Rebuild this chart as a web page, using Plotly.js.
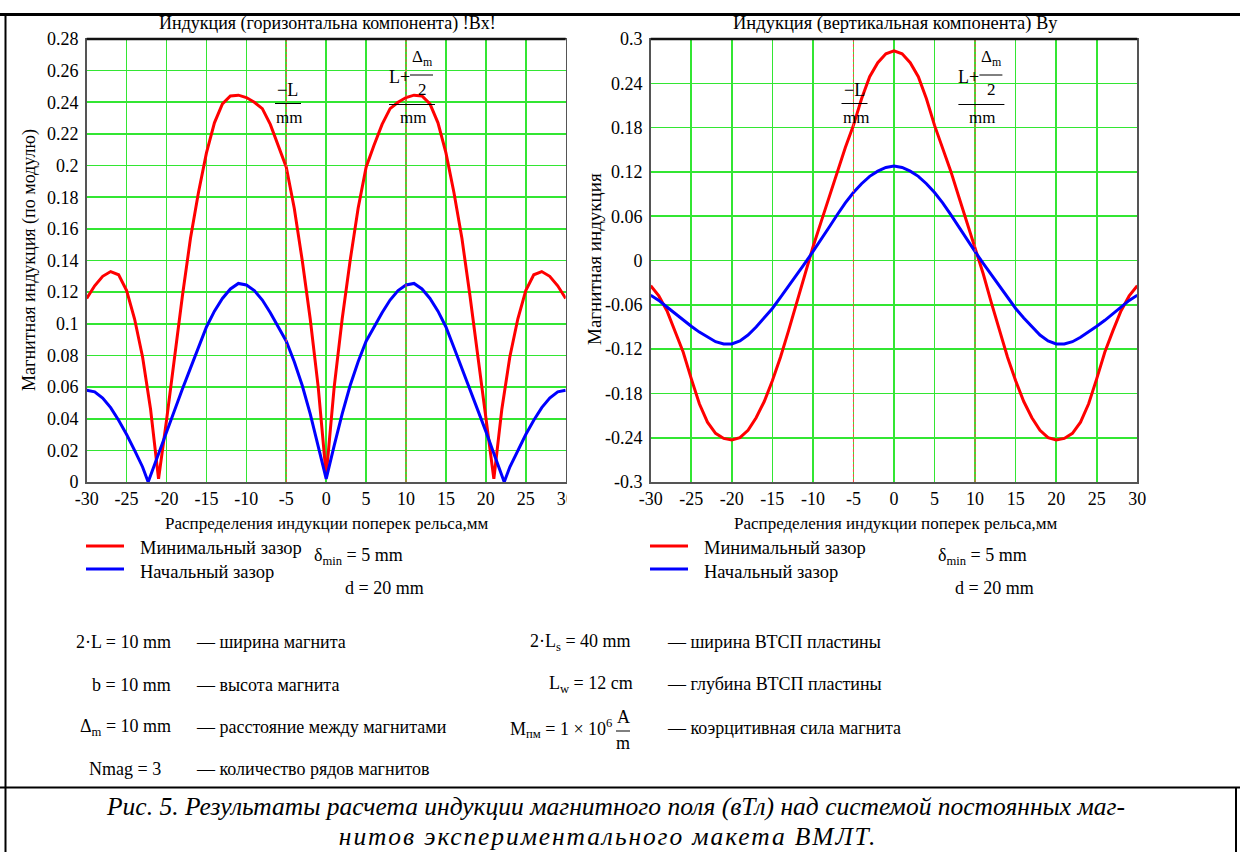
<!DOCTYPE html>
<html>
<head>
<meta charset="utf-8">
<script src="https://cdn.plot.ly/plotly-3.0.1.min.js"></script>
<style>
  html, body { margin: 0; padding: 0; background: #ffffff; }
  #chart { width: 1240px; height: 852px; }
</style>
</head>
<body>
<div id="chart"></div>
<script>
// ---------------- data ----------------
const xMm = [-30,-29,-28,-27,-26,-25,-24,-23,-22,-21,-20,-19,-18,-17,-16,-15,-14,-13,-12,-11,-10,-9,-8,-7,-6,-5,-4,-3,-2,-1,0,
             1,2,3,4,5,6,7,8,9,10,11,12,13,14,15,16,17,18,19,20,21,22,23,24,25,26,27,28,29,30];

// |Bx|, minimal gap (red)
const bxRed = [0.116,0.124,0.130,0.133,0.131,0.121,0.103,0.079,0.046,0.002,0.039,0.079,0.118,0.154,0.183,0.208,0.227,0.239,0.244,0.2445,0.243,0.240,0.236,0.226,0.213,0.199,0.173,0.140,0.103,0.060,0.004,
               0.060,0.103,0.140,0.173,0.199,0.213,0.226,0.236,0.240,0.243,0.2445,0.244,0.239,0.227,0.208,0.183,0.154,0.118,0.079,0.039,0.002,0.046,0.079,0.103,0.121,0.131,0.133,0.130,0.124,0.116];

// |Bx|, initial gap (blue) - own x positions to include the zero cusps
const xBxBlue = [-30,-29,-28,-27,-26,-25,-24,-23,-22.3,-22,-21,-20,-19,-18,-17,-16,-15,-14,-13,-12,-11,-10,-9,-8,-7,-6,-5,-4,-3,-2,-1,0,
                 1,2,3,4,5,6,7,8,9,10,11,12,13,14,15,16,17,18,19,20,21,22,22.3,23,24,25,26,27,28,29,30];
const bxBlue = [0.058,0.057,0.053,0.047,0.039,0.030,0.020,0.0095,0.0,0.0042,0.018,0.032,0.046,0.059,0.072,0.085,0.098,0.108,0.116,0.122,0.1255,0.1245,0.121,0.115,0.107,0.098,0.089,0.076,0.061,0.043,0.023,0.002,
                0.023,0.043,0.061,0.076,0.089,0.098,0.107,0.115,0.121,0.1245,0.1255,0.122,0.116,0.108,0.098,0.085,0.072,0.059,0.046,0.032,0.018,0.0042,0.0,0.0095,0.020,0.030,0.039,0.047,0.053,0.057,0.058];

// By, minimal gap (red)
const byRed = [-0.034,-0.048,-0.068,-0.095,-0.124,-0.160,-0.194,-0.219,-0.234,-0.241,-0.243,-0.240,-0.230,-0.213,-0.191,-0.163,-0.131,-0.095,-0.057,-0.018,0.018,0.052,0.086,0.121,0.153,0.183,0.219,0.249,0.268,0.280,0.284,
               0.280,0.268,0.249,0.219,0.183,0.153,0.121,0.086,0.052,0.018,-0.018,-0.057,-0.095,-0.131,-0.163,-0.191,-0.213,-0.230,-0.240,-0.243,-0.241,-0.234,-0.219,-0.194,-0.160,-0.124,-0.095,-0.068,-0.048,-0.034];

// By, initial gap (blue)
const byBlue = [-0.047,-0.054,-0.063,-0.072,-0.081,-0.089,-0.097,-0.104,-0.110,-0.113,-0.113,-0.109,-0.101,-0.090,-0.078,-0.065,-0.050,-0.035,-0.019,-0.004,0.012,0.028,0.045,0.062,0.078,0.092,0.104,0.114,0.121,0.126,0.128,
                0.126,0.121,0.114,0.104,0.092,0.078,0.062,0.045,0.028,0.012,-0.004,-0.019,-0.035,-0.050,-0.065,-0.078,-0.090,-0.101,-0.109,-0.113,-0.113,-0.110,-0.104,-0.097,-0.089,-0.081,-0.072,-0.063,-0.054,-0.047];

// marker lines: -L and L + Δm/2 (mm)
const markerLines = [-5, 10];

// tick labels
const xTicks = [-30,-25,-20,-15,-10,-5,0,5,10,15,20,25,30];
const xTickText = ['-30','-25','-20','-15','-10','-5','0','5','10','15','20','25','30'];
const bxTicks = [0,0.02,0.04,0.06,0.08,0.1,0.12,0.14,0.16,0.18,0.2,0.22,0.24,0.26,0.28];
const bxTickText = ['0','0.02','0.04','0.06','0.08','0.1','0.12','0.14','0.16','0.18','0.2','0.22','0.24','0.26','0.28'];
const byTicks = [-0.3,-0.24,-0.18,-0.12,-0.06,0,0.06,0.12,0.18,0.24,0.3];
const byTickText = ['-0.3','-0.24','-0.18','-0.12','-0.06','0','0.06','0.12','0.18','0.24','0.3'];

const seriesNames = ['Минимальный зазор', 'Начальный зазор'];

// ---------------- layout helpers ----------------
const W = 1240, H = 852;
const FONT = 'Liberation Serif, Times New Roman, serif';
const RED = '#ff0000', BLUE = '#0000ff', GRID = '#33e633';
const X = v => v / W;
const Y = v => 1 - v / H;

const annotations = [];
function txt(text, x, y, o) {
  o = o || {};
  annotations.push({
    text: text, xref: 'paper', yref: 'paper', x: X(x), y: Y(y),
    xanchor: o.xa || 'center', yanchor: 'middle', showarrow: false,
    textangle: o.angle || 0,
    font: { family: FONT, size: o.size || 18, color: '#000' }
  });
  return annotations.length - 1;
}
const shapes = [];
function seg(x0, y0, x1, y1, w, c, dash) {
  shapes.push({ type: 'line', xref: 'paper', yref: 'paper',
    x0: X(x0), y0: Y(y0), x1: X(x1), y1: Y(y1),
    line: { color: c || '#000', width: w || 1, dash: dash || 'solid' }, layer: 'above' });
}

// plot domains (pixels)
const P1 = { l: 86.7, r: 565.7, t: 39, b: 482 };
const P2 = { l: 650.7, r: 1137.3, t: 39, b: 482 };

// ---------------- traces ----------------
const traces = [
  { x: xMm, y: bxRed, type: 'scatter', mode: 'lines', name: seriesNames[0], line: { color: RED, width: 3 }, xaxis: 'x', yaxis: 'y', showlegend: false },
  { x: xBxBlue, y: bxBlue, type: 'scatter', mode: 'lines', name: seriesNames[1], line: { color: BLUE, width: 3 }, xaxis: 'x', yaxis: 'y', showlegend: false },
  { x: xMm, y: byRed, type: 'scatter', mode: 'lines', name: seriesNames[0], line: { color: RED, width: 3 }, xaxis: 'x2', yaxis: 'y2', showlegend: false },
  { x: xMm, y: byBlue, type: 'scatter', mode: 'lines', name: seriesNames[1], line: { color: BLUE, width: 3 }, xaxis: 'x2', yaxis: 'y2', showlegend: false }
];

// marker lines in data coordinates
markerLines.forEach(v => {
  ['x', 'x2'].forEach((xa, i) => {
    shapes.push({ type: 'line', xref: xa, yref: (i === 0 ? 'y' : 'y2') + ' domain',
      x0: v, x1: v, y0: 0, y1: 1,
      line: { color: 'rgb(255,70,70)', width: 1, dash: '3px,2px' }, layer: 'above' });
  });
});

// top frame lines (dark)
seg(P1.l, P1.t, P1.r, P1.t, 2.5, '#111');
seg(P2.l, P2.t, P2.r, P2.t, 2.5, '#111');

// hide clipped part of last tick label on the left plot
shapes.push({ type: 'rect', xref: 'paper', yref: 'paper', x0: X(566.6), x1: X(584), y0: Y(508), y1: Y(484),
  fillcolor: '#ffffff', line: { width: 0 }, layer: 'above' });

// ---------------- texts ----------------
txt('Индукция (горизонтальна компонента) !Bx!', 327, 24, { size: 18 });
txt('Индукция (вертикальная компонента) By', 895, 24, { size: 18.5 });
txt('Распределения индукции поперек рельса,мм', 326, 523, { size: 17 });
txt('Распределения индукции поперек рельса,мм', 895, 523, { size: 17 });
txt('Магнитная индукция (по модулю)', 30, 260, { size: 18, angle: -90 });
txt('Магнитная индукция', 594, 259, { size: 19, angle: -90 });

// fraction labels for the marker lines
[0, 569.4].forEach(dx => {
  const c = dx === 0 ? 287.5 : 854;
  txt('−L', c, 90, { size: 18 });
  seg(c - 12.5, 103.5, c + 13.5, 103.5, 1, '#000');
  txt('mm', c + 1.5, 117, { size: 17 });
  txt('L+', 399 + dx, 77, { size: 18 });
  txt('Δ<sub>m</sub>', 422 + dx, 58, { size: 17 });
  seg(410 + dx, 75, 433 + dx, 75, 1, '#000');
  txt('2', 422 + dx, 89, { size: 17 });
  seg(389 + dx, 104.5, 435 + dx, 104.5, 1, '#000');
  txt('mm', 413 + dx, 117, { size: 17 });
});

// legends
[[86, 138], [650, 702]].forEach(([lx, tx]) => {
  seg(lx, 546, lx + 38, 546, 3, RED);
  seg(lx, 569, lx + 38, 569, 3, BLUE);
  txt(seriesNames[0], tx, 548, { xa: 'left', size: 18.5 });
  txt(seriesNames[1], tx, 572, { xa: 'left', size: 18.5 });
});
txt('δ<sub>min</sub> = 5 mm', 312, 556, { xa: 'left', size: 18 });
txt('d = 20 mm', 343, 588, { xa: 'left', size: 18 });
txt('δ<sub>min</sub> = 5 mm', 936, 556, { xa: 'left', size: 18 });
txt('d = 20 mm', 953, 588, { xa: 'left', size: 18 });

// parameter block
txt('2·L = 10 mm', 173, 642, { xa: 'right' });
txt('— ширина магнита', 194, 642, { xa: 'left' });
txt('b = 10 mm', 173, 685, { xa: 'right' });
txt('— высота магнита', 194, 685, { xa: 'left' });
txt('Δ<sub>m</sub> = 10 mm', 173, 727, { xa: 'right' });
txt('— расстояние между магнитами', 194, 727, { xa: 'left' });
txt('Nmag = 3', 163, 769, { xa: 'right' });
txt('— количество рядов магнитов', 194, 769, { xa: 'left' });

txt('2·L<sub>s</sub> = 40 mm', 633, 642, { xa: 'right' });
txt('— ширина ВТСП пластины', 665, 642, { xa: 'left' });
txt('L<sub>w</sub> = 12 cm', 635, 684, { xa: 'right' });
txt('— глубина ВТСП пластины', 665, 684, { xa: 'left' });
txt('M<sub>пм</sub> = 1 × 10<sup>6</sup>', 614, 728, { xa: 'right' });
txt('A', 623, 717, { size: 18 });
seg(616, 731, 630, 731, 1, '#000');
txt('m', 623, 743, { size: 18 });
txt('— коэрцитивная сила магнита', 665, 728, { xa: 'left' });

// caption
txt('<i>Рис. 5. Результаты расчета индукции магнитного поля (вТл) над системой постоянных маг-</i>', 615, 806, { size: 25.5 });
const capIdx = txt('<i>нитов экспериментального макета ВМЛТ.</i>', 608, 836, { size: 25.5 });

// page frame
seg(0, 14.5, 1240, 14.5, 3, '#000');
seg(5.5, 14, 5.5, 852, 2, '#000');
seg(0, 787.5, 1240, 787.5, 2, '#000');
seg(1236, 787, 1236, 852, 2, '#000');

// letter spacing for the second caption line
const st = document.createElement('style');
st.textContent = '.annotation[data-index="' + capIdx + '"] text { letter-spacing: 1.9px; }';
document.head.appendChild(st);

// ---------------- axes ----------------
function xAxis(dom, anchor) {
  return { domain: [X(dom.l), X(dom.r)], anchor: anchor, range: [-30, 30],
    tickvals: xTicks, ticktext: xTickText, ticks: '', showgrid: true, gridcolor: GRID, gridwidth: 1.6,
    zeroline: false, showline: true, linecolor: '#555', linewidth: 1.5, mirror: true,
    tickfont: { family: FONT, size: 18, color: '#000' }, fixedrange: true };
}
function yAxis(dom, anchor, range, tv, tt) {
  return { domain: [Y(dom.b), Y(dom.t)], anchor: anchor, range: range,
    tickvals: tv, ticktext: tt, ticks: '', showgrid: true, gridcolor: GRID, gridwidth: 1.6,
    zeroline: false, showline: true, linecolor: '#555', linewidth: 1.5, mirror: true,
    ticklabelstandoff: 3,
    tickfont: { family: FONT, size: 18, color: '#000' }, fixedrange: true };
}

const layout = {
  width: W, height: H, margin: { l: 0, r: 0, t: 0, b: 0, pad: 0 },
  paper_bgcolor: '#ffffff', plot_bgcolor: '#ffffff', showlegend: false,
  xaxis: xAxis(P1, 'y'), yaxis: yAxis(P1, 'x', [0, 0.28], bxTicks, bxTickText),
  xaxis2: xAxis(P2, 'y2'), yaxis2: yAxis(P2, 'x2', [-0.3, 0.3], byTicks, byTickText),
  annotations: annotations, shapes: shapes
};

Plotly.newPlot('chart', traces, layout, { displayModeBar: false, staticPlot: true });
</script>
</body>
</html>
